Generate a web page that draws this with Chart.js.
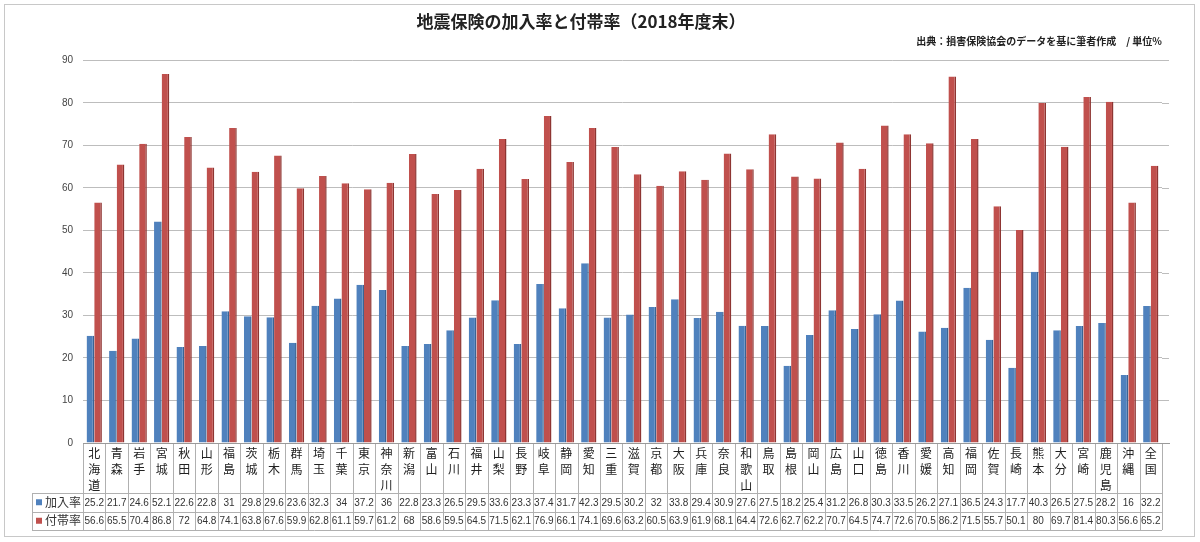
<!DOCTYPE html>
<html>
<head>
<meta charset="utf-8">
<script src="https://cdn.jsdelivr.net/npm/chart.js@4"></script>
<style>
  html, body { margin: 0; padding: 0; background: #fff; }
  #wrap { width: 1200px; height: 542px; }
</style>
</head>
<body>
<div id="wrap"><canvas id="quakeChart" width="1200" height="542"></canvas></div>
<script>
// prefectures + national total
var prefectures = ['北海道','青森','岩手','宮城','秋田','山形','福島','茨城','栃木','群馬','埼玉','千葉','東京','神奈川',
    '新潟','富山','石川','福井','山梨','長野','岐阜','静岡','愛知','三重','滋賀','京都','大阪','兵庫','奈良','和歌山',
    '鳥取','島根','岡山','広島','山口','徳島','香川','愛媛','高知','福岡','佐賀','長崎','熊本','大分','宮崎','鹿児島','沖縄','全国'];

// 加入率 (%)
var kanyuRate = [25.2,21.7,24.6,52.1,22.6,22.8,31,29.8,29.6,23.6,32.3,34,37.2,36,
    22.8,23.3,26.5,29.5,33.6,23.3,37.4,31.7,42.3,29.5,30.2,32,33.8,29.4,30.9,27.6,
    27.5,18.2,25.4,31.2,26.8,30.3,33.5,26.2,27.1,36.5,24.3,17.7,40.3,26.5,27.5,28.2,16,32.2];

// 付帯率 (%)
var futaiRate = [56.6,65.5,70.4,86.8,72,64.8,74.1,63.8,67.6,59.9,62.8,61.1,59.7,61.2,
    68,58.6,59.5,64.5,71.5,62.1,76.9,66.1,74.1,69.6,63.2,60.5,63.9,61.9,68.1,64.4,
    72.6,62.7,62.2,70.7,64.5,74.7,72.6,70.5,86.2,71.5,55.7,50.1,80,69.7,81.4,80.3,56.6,65.2];

var yTicks = [0,10,20,30,40,50,60,70,80,90];

var blue = '#4f81bd', blueDark = '#3a6394';
var red = '#c0504d', redDark = '#8e3532';
var jpFont = '"Noto Sans CJK JP", "Liberation Sans", sans-serif';

// vertical labels: one character per line
var verticalLabels = prefectures.map(function (p) { return p.split(''); });

// gridlines run a little past the last category, like the 3D back wall
var wallPlugin = {
    id: 'wallExtend',
    beforeDatasetsDraw: function (chart) {
        var ctx = chart.ctx;
        var area = chart.chartArea;
        var ys = chart.scales.y;
        ctx.save();
        ctx.strokeStyle = '#bdbdbd';
        ctx.lineWidth = 1;
        ctx.beginPath();
        yTicks.forEach(function (v) {
            var y = Math.round(ys.getPixelForValue(v)) + 0.5;
            ctx.moveTo(area.right, y);
            ctx.lineTo(area.right + 7, y);
        });
        ctx.stroke();
        ctx.restore();
    }
};

// outer frame + data table under the axis
var tablePlugin = {
    id: 'dataTable',
    afterDraw: function (chart) {
        var ctx = chart.ctx;
        var area = chart.chartArea;
        var xs = chart.scales.x;
        var half = (xs.getPixelForValue(1) - xs.getPixelForValue(0)) / 2;
        var labelBottom = area.bottom + 50;
        var row1 = labelBottom + 18.5, row2 = row1 + 18.5;
        var legendLeft = 32;

        ctx.save();
        ctx.strokeStyle = '#b0b0b0';
        ctx.lineWidth = 1;
        ctx.beginPath();
        // cell separators
        for (var i = 0; i <= prefectures.length; i++) {
            var x = Math.round(xs.getPixelForValue(i) - half) + 0.5;
            ctx.moveTo(x, area.bottom);
            ctx.lineTo(x, row2);
        }
        ctx.moveTo(legendLeft + 0.5, labelBottom);
        ctx.lineTo(legendLeft + 0.5, row2);
        [labelBottom, row1, row2].forEach(function (y) {
            y = Math.round(y) + 0.5;
            ctx.moveTo(legendLeft, y);
            ctx.lineTo(area.right, y);
        });
        ctx.stroke();

        // floor line
        ctx.strokeStyle = '#9a9a9a';
        ctx.beginPath();
        ctx.moveTo(area.left, Math.round(area.bottom) + 0.5);
        ctx.lineTo(area.right + 8, Math.round(area.bottom) + 0.5);
        ctx.stroke();

        // legend keys
        ctx.font = '12px ' + jpFont;
        ctx.textBaseline = 'middle';
        ctx.textAlign = 'left';
        ctx.fillStyle = blue;
        ctx.fillRect(legendLeft + 4, (labelBottom + row1) / 2 - 3, 6, 6);
        ctx.fillStyle = red;
        ctx.fillRect(legendLeft + 4, (row1 + row2) / 2 - 3, 6, 6);
        ctx.fillStyle = '#333';
        ctx.fillText('加入率', legendLeft + 13, (labelBottom + row1) / 2);
        ctx.fillText('付帯率', legendLeft + 13, (row1 + row2) / 2);

        // values
        ctx.font = '10px "Liberation Sans", sans-serif';
        ctx.textAlign = 'center';
        for (var j = 0; j < prefectures.length; j++) {
            var cx = xs.getPixelForValue(j);
            ctx.fillText(String(kanyuRate[j]), cx, (labelBottom + row1) / 2 + 0.5);
            ctx.fillText(String(futaiRate[j]), cx, (row1 + row2) / 2 + 0.5);
        }

        // outer frame
        ctx.strokeStyle = '#c8c8c8';
        ctx.strokeRect(4.5, 4.5, 1190, 532);
        ctx.restore();
    }
};

var ctx = document.getElementById('quakeChart').getContext('2d');
var quakeChart = new Chart(ctx, {
    type: 'bar',
    data: {
        labels: verticalLabels,
        datasets: [{
            label: '加入率',
            data: kanyuRate,
            backgroundColor: blue,
            borderColor: blueDark,
            borderWidth: { right: 1.5, top: 0, left: 0, bottom: 0 },
            borderSkipped: false,
        },{
            label: '付帯率',
            data: futaiRate,
            backgroundColor: red,
            borderColor: redDark,
            borderWidth: { right: 1.5, top: 0, left: 0, bottom: 0 },
            borderSkipped: false,
        }]
    },
    options: {
        responsive: false,
        animation: false,
        categoryPercentage: 0.68,
        barPercentage: 1,
        layout: {
            padding: { left: 0, right: 38, top: 0, bottom: 49 }
        },
        plugins: {
            legend: { display: false },
            tooltip: { enabled: false },
            title: {
                display: true,
                text: '地震保険の加入率と付帯率（2018年度末）',
                color: '#222',
                font: { family: jpFont, size: 17, weight: 'bold' },
                padding: { top: 11, bottom: 2 }
            },
            subtitle: {
                display: true,
                text: '出典：損害保険協会のデータを基に筆者作成　/ 単位%',
                align: 'end',
                color: '#222',
                font: { family: jpFont, size: 10, weight: 'bold' },
                padding: { top: 2, bottom: 13 }
            }
        },
        scales: {
            y: {
                min: 0,
                max: 90,
                afterBuildTicks: function (scale) {
                    scale.ticks = yTicks.map(function (v) { return { value: v }; });
                },
                afterFit: function (scale) { scale.width = 83; },
                ticks: {
                    color: '#444',
                    padding: 10,
                    font: { family: '"Liberation Sans", sans-serif', size: 10 }
                },
                grid: { color: '#bdbdbd', drawTicks: false },
                border: { display: false }
            },
            x: {
                afterFit: function (scale) { scale.height = 50; },
                ticks: {
                    autoSkip: false,
                    maxRotation: 0,
                    minRotation: 0,
                    padding: 3,
                    color: '#222',
                    font: { family: jpFont, size: 12, lineHeight: 1.3 }
                },
                grid: { display: false, drawTicks: false },
                border: { display: false }
            }
        }
    },
    plugins: [wallPlugin, tablePlugin]
});
</script>
</body>
</html>
